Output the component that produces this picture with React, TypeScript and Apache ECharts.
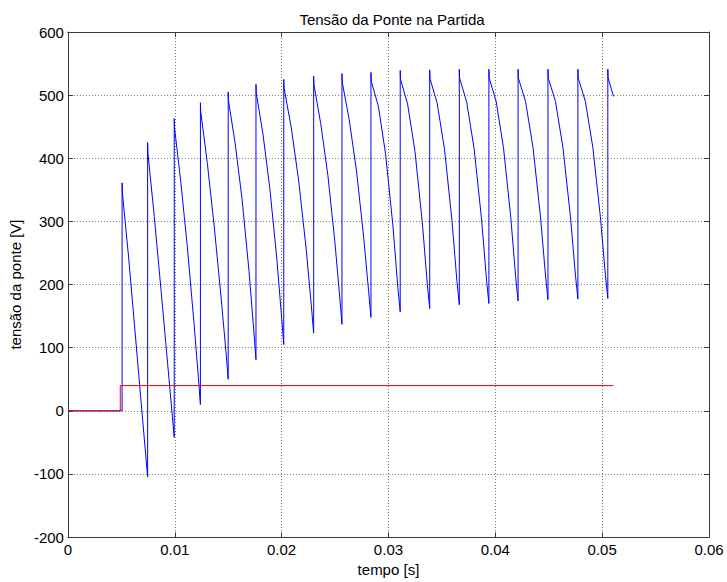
import React, { useEffect, useRef } from "react";
import * as echarts from "echarts";

const chartTitle = "Tensão da Ponte na Partida";
const xAxisName = "tempo [s]";
const yAxisName = "tensão da ponte [V]";

const xTicks = [0, 0.01, 0.02, 0.03, 0.04, 0.05, 0.06];
const yTicks = [-200, -100, 0, 100, 200, 300, 400, 500, 600];

// bridge voltage [time s, voltage V]
const bridgeVoltage: [number, number][] = [
  [0, 0], [0.00507, 0],
  [0.00507, 361], [0.0051, 345], [0.00567, 245], [0.00627, 128], [0.00686, 12], [0.00746, -105],
  [0.00746, 425], [0.00749, 408], [0.00808, 308], [0.00871, 192], [0.00933, 75], [0.00995, -42],
  [0.00995, 463], [0.00998, 448], [0.01056, 363], [0.01118, 259], [0.01179, 141], [0.0122, 55], [0.0124, 10],
  [0.0124, 488], [0.01243, 474], [0.01305, 392], [0.0137, 291], [0.01435, 177], [0.01479, 94], [0.015, 50],
  [0.015, 505], [0.01503, 491], [0.01565, 424], [0.0163, 335], [0.01695, 221], [0.01739, 128], [0.0176, 81],
  [0.0176, 517], [0.01763, 503], [0.01825, 439], [0.0189, 352], [0.01955, 241], [0.01999, 150], [0.0202, 105],
  [0.0202, 525], [0.02023, 511], [0.0209, 449], [0.0216, 364], [0.0223, 256], [0.02278, 167], [0.023, 123],
  [0.023, 530], [0.02303, 516], [0.02366, 455], [0.02433, 373], [0.02499, 267], [0.02544, 180], [0.02565, 137],
  [0.02565, 534], [0.02568, 520], [0.02633, 461], [0.02701, 380], [0.02768, 275], [0.02814, 190], [0.02836, 148],
  [0.02836, 536], [0.02839, 522], [0.02905, 483], [0.02973, 407], [0.03042, 293], [0.03088, 195], [0.0311, 157],
  [0.0311, 539], [0.03113, 525], [0.03179, 486], [0.03248, 411], [0.03317, 298], [0.03364, 200], [0.03386, 162],
  [0.03386, 540], [0.03389, 526], [0.03455, 488], [0.03525, 414], [0.03594, 302], [0.03641, 205], [0.03663, 168],
  [0.03663, 541], [0.03666, 527], [0.03732, 489], [0.03802, 415], [0.03871, 304], [0.03918, 207], [0.0394, 170],
  [0.0394, 541], [0.03943, 527], [0.04008, 490], [0.04077, 416], [0.04145, 306], [0.04191, 211], [0.04213, 174],
  [0.04213, 541], [0.04216, 527], [0.04283, 490], [0.04353, 417], [0.04423, 307], [0.04471, 212], [0.04493, 176],
  [0.04493, 541], [0.04496, 527], [0.04563, 490], [0.04633, 417], [0.04703, 308], [0.04751, 213], [0.04773, 177],
  [0.04773, 541], [0.04776, 527], [0.04843, 490], [0.04913, 417], [0.04983, 308], [0.05031, 214], [0.05053, 178],
  [0.05053, 541], [0.05056, 527], [0.05106, 498],
];

// reference (red) trace [time s, value]
const referenceLevel: [number, number][] = [
  [0, 0], [0.0049, 0], [0.0049, 40], [0.05106, 40],
];

const FONT = "'Liberation Sans', Arial, Helvetica, sans-serif";
const AXIS_COLOR = "#3a3a3a";
const GRID_COLOR = "#7a7a7a";

export default function App() {
  const ref = useRef<HTMLDivElement>(null);

  useEffect(() => {
    if (!ref.current) return;
    const chart = echarts.init(ref.current, undefined, { renderer: "svg" });

    const xMin = xTicks[0];
    const xMax = xTicks[xTicks.length - 1];
    const xInt = xTicks[1] - xTicks[0];
    const yMin = yTicks[0];
    const yMax = yTicks[yTicks.length - 1];
    const yInt = yTicks[1] - yTicks[0];

    const baseAxis = {
      axisLine: { show: true, onZero: false, lineStyle: { color: AXIS_COLOR, width: 1 } },
      axisTick: { show: true, inside: true, length: 5, lineStyle: { color: AXIS_COLOR, width: 1 } },
    };

    const option: any = {
      animation: false,
      backgroundColor: "#ffffff",
      title: {
        text: chartTitle,
        left: 387,
        textAlign: "center",
        top: 7,
        textStyle: { fontFamily: FONT, fontSize: 15, fontWeight: "normal", color: "#000" },
      },
      grid: { left: 66, right: 18, top: 32, bottom: 42, containLabel: false },
      xAxis: [
        {
          ...baseAxis,
          type: "value",
          position: "bottom",
          min: xMin,
          max: xMax,
          interval: xInt,
          name: xAxisName,
          nameLocation: "middle",
          nameGap: 21,
          nameTextStyle: { fontFamily: FONT, fontSize: 15, color: "#000" },
          axisLabel: {
            margin: 5,
            fontFamily: FONT,
            fontSize: 15,
            color: "#000",
            formatter: (v: number) => String(+v.toFixed(2)),
          },
          splitLine: { show: true, lineStyle: { color: GRID_COLOR, type: [1, 2], width: 1 } },
        },
        {
          ...baseAxis,
          type: "value",
          position: "top",
          min: xMin,
          max: xMax,
          interval: xInt,
          axisLabel: { show: false },
          splitLine: { show: false },
        },
      ],
      yAxis: [
        {
          ...baseAxis,
          type: "value",
          position: "left",
          min: yMin,
          max: yMax,
          interval: yInt,
          name: yAxisName,
          nameLocation: "middle",
          nameGap: 34,
          nameRotate: 90,
          nameTextStyle: { fontFamily: FONT, fontSize: 15, color: "#000" },
          axisLabel: { margin: 4, fontFamily: FONT, fontSize: 15, color: "#000" },
          splitLine: { show: true, lineStyle: { color: GRID_COLOR, type: [1, 2], width: 1 } },
        },
        {
          ...baseAxis,
          type: "value",
          position: "right",
          min: yMin,
          max: yMax,
          interval: yInt,
          axisLabel: { show: false },
          splitLine: { show: false },
        },
      ],
      series: [
        {
          type: "line",
          data: bridgeVoltage,
          xAxisIndex: 0,
          yAxisIndex: 0,
          showSymbol: false,
          symbol: "none",
          lineStyle: { color: "#0000ff", width: 1 },
          itemStyle: { color: "#0000ff" },
          z: 3,
        },
        {
          type: "line",
          data: referenceLevel,
          xAxisIndex: 0,
          yAxisIndex: 0,
          showSymbol: false,
          symbol: "none",
          lineStyle: { color: "#ff0000", width: 1 },
          itemStyle: { color: "#ff0000" },
          z: 4,
        },
      ],
    };

    chart.setOption(option);
    return () => chart.dispose();
  }, []);

  return (
    <div
      ref={ref}
      style={{ position: "fixed", left: 0, top: 0, width: 727, height: 582, background: "#fff" }}
    />
  );
}
